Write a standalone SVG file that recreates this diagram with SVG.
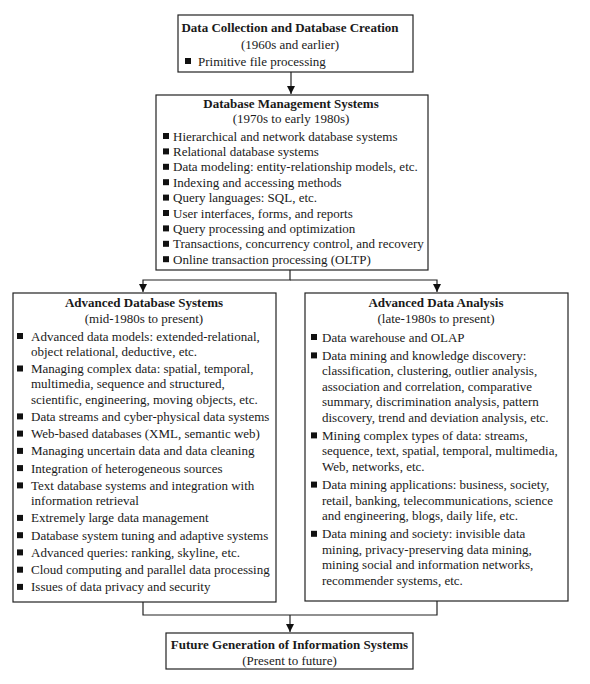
<svg xmlns="http://www.w3.org/2000/svg" width="590" height="684" viewBox="0 0 590 684">
<style>
.box{fill:#fff;stroke:#222;stroke-width:1.2}
text{font-family:"Liberation Serif","Times New Roman",serif;font-size:13px;fill:#1a1a1a}
.t{font-weight:bold;text-anchor:middle}
.s{text-anchor:middle}
.b{fill:#111}
.c{fill:none;stroke:#222;stroke-width:1.2}
</style>
<defs>
<marker id="ah" viewBox="0 0 8 8" refX="8" refY="4" markerWidth="8" markerHeight="8" markerUnits="userSpaceOnUse" orient="auto">
<path d="M0,0 L8,4 L0,8 Z" fill="#111"/>
</marker>
</defs>
<rect width="590" height="684" fill="#fff"/>
<g id="connectors">
<path class="c" d="M291,72 V94" marker-end="url(#ah)"/>
<path class="c" d="M290,270 V280 H143 V292" marker-end="url(#ah)"/>
<path class="c" d="M290,280 H437 V292" marker-end="url(#ah)"/>
<path class="c" d="M143,602 V615 H437 V601"/>
<path class="c" d="M290,615 V632" marker-end="url(#ah)"/>
</g>
<g id="n1">
<rect class="box" x="178" y="15" width="235" height="57"/>
<text class="t" x="290" y="31.5">Data Collection and Database Creation</text>
<text class="s" x="290" y="48.5">(1960s and earlier)</text>
<rect class="b" x="185" y="58" width="6" height="6"/>
<text x="198" y="65.5">Primitive file processing</text>
</g>
<g id="n2">
<rect class="box" x="156" y="95" width="272" height="175"/>
<text class="t" x="291" y="107.5">Database Management Systems</text>
<text class="s" x="291" y="122.5">(1970s to early 1980s)</text>
<rect class="b" x="163" y="133" width="6" height="6"/>
<text x="173" y="140.5">Hierarchical and network database systems</text>
<rect class="b" x="163" y="148.4" width="6" height="6"/>
<text x="173" y="155.9">Relational database systems</text>
<rect class="b" x="163" y="163.8" width="6" height="6"/>
<text x="173" y="171.3">Data modeling: entity-relationship models, etc.</text>
<rect class="b" x="163" y="179.2" width="6" height="6"/>
<text x="173" y="186.7">Indexing and accessing methods</text>
<rect class="b" x="163" y="194.6" width="6" height="6"/>
<text x="173" y="202.1">Query languages: SQL, etc.</text>
<rect class="b" x="163" y="210" width="6" height="6"/>
<text x="173" y="217.5">User interfaces, forms, and reports</text>
<rect class="b" x="163" y="225.4" width="6" height="6"/>
<text x="173" y="232.9">Query processing and optimization</text>
<rect class="b" x="163" y="240.8" width="6" height="6"/>
<text x="173" y="248.3">Transactions, concurrency control, and recovery</text>
<rect class="b" x="163" y="256.2" width="6" height="6"/>
<text x="173" y="263.7">Online transaction processing (OLTP)</text>
</g>
<g id="n3">
<rect class="box" x="13" y="293" width="263" height="309"/>
<text class="t" x="144" y="306.5">Advanced Database Systems</text>
<text class="s" x="144" y="322.5">(mid-1980s to present)</text>
<rect class="b" x="17" y="333" width="6" height="6"/>
<text x="31" y="340.5">Advanced data models: extended-relational,</text>
<text x="31" y="355.8">object relational, deductive, etc.</text>
<rect class="b" x="17" y="365.5" width="6" height="6"/>
<text x="31" y="373">Managing complex data: spatial, temporal,</text>
<text x="31" y="388.3">multimedia, sequence and structured,</text>
<text x="31" y="403.6">scientific, engineering, moving objects, etc.</text>
<rect class="b" x="17" y="413.4" width="6" height="6"/>
<text x="31" y="420.9">Data streams and cyber-physical data systems</text>
<rect class="b" x="17" y="430.6" width="6" height="6"/>
<text x="31" y="438.1">Web-based databases (XML, semantic web)</text>
<rect class="b" x="17" y="447.9" width="6" height="6"/>
<text x="31" y="455.4">Managing uncertain data and data cleaning</text>
<rect class="b" x="17" y="465.1" width="6" height="6"/>
<text x="31" y="472.6">Integration of heterogeneous sources</text>
<rect class="b" x="17" y="482.4" width="6" height="6"/>
<text x="31" y="489.9">Text database systems and integration with</text>
<text x="31" y="505.2">information retrieval</text>
<rect class="b" x="17" y="514.9" width="6" height="6"/>
<text x="31" y="522.4">Extremely large data management</text>
<rect class="b" x="17" y="532.2" width="6" height="6"/>
<text x="31" y="539.7">Database system tuning and adaptive systems</text>
<rect class="b" x="17" y="549.4" width="6" height="6"/>
<text x="31" y="556.9">Advanced queries: ranking, skyline, etc.</text>
<rect class="b" x="17" y="566.7" width="6" height="6"/>
<text x="31" y="574.2">Cloud computing and parallel data processing</text>
<rect class="b" x="17" y="583.9" width="6" height="6"/>
<text x="31" y="591.4">Issues of data privacy and security</text>
</g>
<g id="n4">
<rect class="box" x="305" y="293" width="263" height="308"/>
<text class="t" x="436" y="306.5">Advanced Data Analysis</text>
<text class="s" x="436" y="322.5">(late-1980s to present)</text>
<rect class="b" x="311" y="334" width="6" height="6"/>
<text x="322" y="341.5">Data warehouse and OLAP</text>
<rect class="b" x="311" y="352.4" width="6" height="6"/>
<text x="322" y="359.9">Data mining and knowledge discovery:</text>
<text x="322" y="375.3">classification, clustering, outlier analysis,</text>
<text x="322" y="390.7">association and correlation, comparative</text>
<text x="322" y="406.1">summary, discrimination analysis, pattern</text>
<text x="322" y="421.5">discovery, trend and deviation analysis, etc.</text>
<rect class="b" x="311" y="432.4" width="6" height="6"/>
<text x="322" y="439.9">Mining complex types of data: streams,</text>
<text x="322" y="455.3">sequence, text, spatial, temporal, multimedia,</text>
<text x="322" y="470.7">Web, networks, etc.</text>
<rect class="b" x="311" y="481.6" width="6" height="6"/>
<text x="322" y="489.1">Data mining applications: business, society,</text>
<text x="322" y="504.5">retail, banking, telecommunications, science</text>
<text x="322" y="519.9">and engineering, blogs, daily life, etc.</text>
<rect class="b" x="311" y="530.8" width="6" height="6"/>
<text x="322" y="538.3">Data mining and society: invisible data</text>
<text x="322" y="553.7">mining, privacy-preserving data mining,</text>
<text x="322" y="569.1">mining social and information networks,</text>
<text x="322" y="584.5">recommender systems, etc.</text>
</g>
<g id="n5">
<rect class="box" x="166" y="633" width="247" height="36"/>
<text class="t" x="289.5" y="648.5">Future Generation of Information Systems</text>
<text class="s" x="289.5" y="664.5">(Present to future)</text>
</g>
</svg>
